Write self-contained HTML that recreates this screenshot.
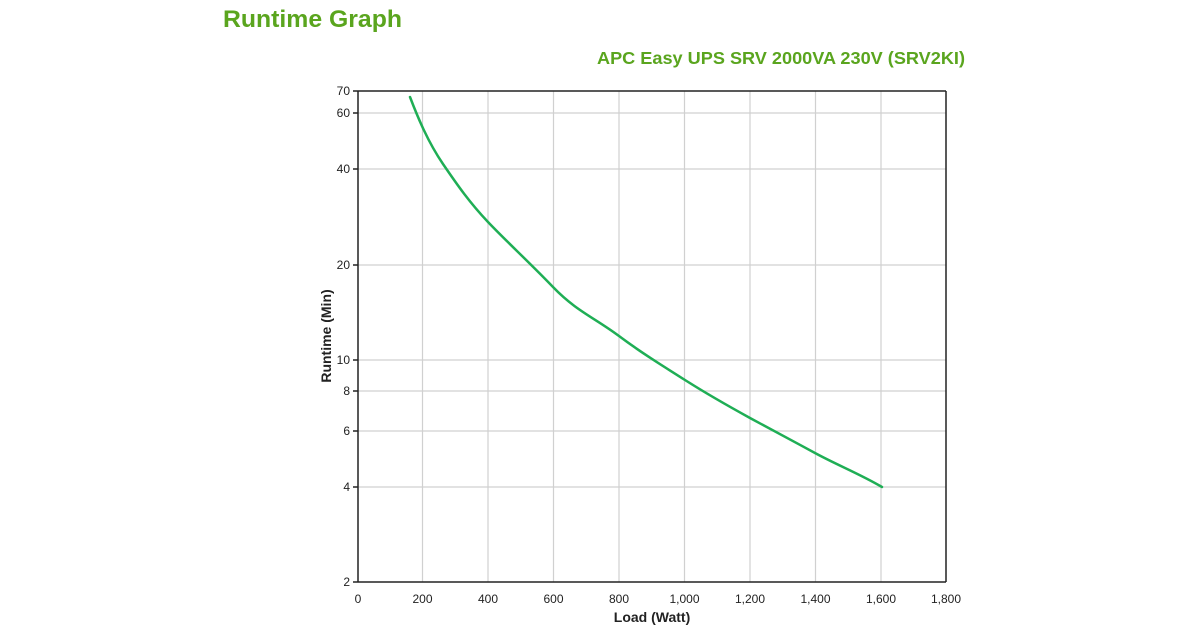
<!DOCTYPE html>
<html><head><meta charset="utf-8"><style>
body{margin:0;background:#fff;width:1200px;height:630px;overflow:hidden}
</style></head><body>
<svg width="1200" height="630" xmlns="http://www.w3.org/2000/svg" font-family="Liberation Sans, Arial, sans-serif">
<text x="223" y="27" font-size="24.5" font-weight="bold" fill="#5aa51e" textLength="179" lengthAdjust="spacingAndGlyphs">Runtime Graph</text>
<text x="597" y="64" font-size="17.5" font-weight="bold" fill="#5aa51e" textLength="368" lengthAdjust="spacingAndGlyphs">APC Easy UPS SRV 2000VA 230V (SRV2KI)</text>
<g stroke="#d0d0d0" stroke-width="1.2">
<line x1="422.5" y1="91" x2="422.5" y2="582"/><line x1="488" y1="91" x2="488" y2="582"/><line x1="553.5" y1="91" x2="553.5" y2="582"/><line x1="619" y1="91" x2="619" y2="582"/><line x1="684.5" y1="91" x2="684.5" y2="582"/><line x1="750" y1="91" x2="750" y2="582"/><line x1="815.5" y1="91" x2="815.5" y2="582"/><line x1="881" y1="91" x2="881" y2="582"/>
<line x1="358" y1="113" x2="946" y2="113"/><line x1="358" y1="169" x2="946" y2="169"/><line x1="358" y1="265" x2="946" y2="265"/><line x1="358" y1="360" x2="946" y2="360"/><line x1="358" y1="391" x2="946" y2="391"/><line x1="358" y1="431" x2="946" y2="431"/><line x1="358" y1="487" x2="946" y2="487"/>
</g>
<g stroke="#222" stroke-width="1.5">
<line x1="358" y1="91" x2="946" y2="91"/><line x1="358" y1="91" x2="358" y2="582"/><line x1="358" y1="582" x2="946" y2="582"/><line x1="946" y1="91" x2="946" y2="582"/>
<line x1="353" y1="91" x2="358" y2="91"/><line x1="353" y1="113" x2="358" y2="113"/><line x1="353" y1="169" x2="358" y2="169"/><line x1="353" y1="265" x2="358" y2="265"/><line x1="353" y1="360" x2="358" y2="360"/><line x1="353" y1="391" x2="358" y2="391"/><line x1="353" y1="431" x2="358" y2="431"/><line x1="353" y1="487" x2="358" y2="487"/><line x1="353" y1="582" x2="358" y2="582"/>
</g>
<g font-size="12" fill="#222" text-anchor="end">
<text x="350" y="95">70</text><text x="350" y="117">60</text><text x="350" y="173">40</text><text x="350" y="269">20</text><text x="350" y="364">10</text><text x="350" y="395">8</text><text x="350" y="435">6</text><text x="350" y="491">4</text><text x="350" y="586">2</text>
</g>
<g font-size="12" fill="#222" text-anchor="middle">
<text x="358" y="603">0</text><text x="422.5" y="603">200</text><text x="488" y="603">400</text><text x="553.5" y="603">600</text><text x="619" y="603">800</text><text x="684.5" y="603">1,000</text><text x="750" y="603">1,200</text><text x="815.5" y="603">1,400</text><text x="881" y="603">1,600</text><text x="946" y="603">1,800</text>
</g>
<text x="652" y="622" font-size="14" font-weight="bold" fill="#222" text-anchor="middle">Load (Watt)</text>
<text transform="translate(331,336) rotate(-90)" font-size="14" font-weight="bold" fill="#222" text-anchor="middle">Runtime (Min)</text>
<path fill="none" stroke="#1fae55" stroke-width="2.5" stroke-linecap="round" d="M410,97 C418,118 428,142 443,164 S470,203 488,222 S530,263 553,287 S595,318 619,336 S660,364 685,380 S730,407 750,418 S793,441 815,453 S860,474 882,487"/>
</svg>
</body></html>
